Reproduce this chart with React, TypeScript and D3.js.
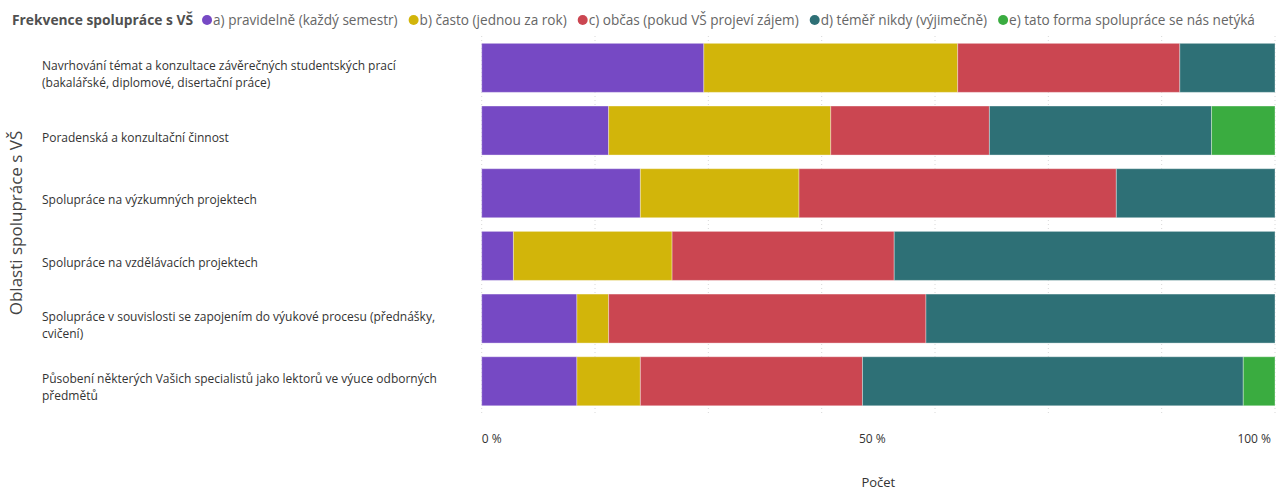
import React, { useEffect, useRef } from "react";
import * as d3 from "d3";

const categories = [
  "Navrhování témat a konzultace závěrečných studentských prací\n(bakalářské, diplomové, disertační práce)",
  "Poradenská a konzultační činnost",
  "Spolupráce na výzkumných projektech",
  "Spolupráce na vzdělávacích projektech",
  "Spolupráce v souvislosti se zapojením do výukové procesu (přednášky,\ncvičení)",
  "Působení některých Vašich specialistů jako lektorů ve výuce odborných\npředmětů",
];

const seriesNames = [
  "a) pravidelně (každý semestr)",
  "b) často (jednou za rok)",
  "c) občas (pokud VŠ projeví zájem)",
  "d) téměř nikdy (výjimečně)",
  "e) tato forma spolupráce se nás netýká",
];

const seriesColors = ["#7649C4", "#D2B50A", "#CB4651", "#2E7076", "#3AAC40"];

// counts per category (same order as categories)
const valuesA = [7, 4, 5, 1, 3, 3];
const valuesB = [8, 7, 5, 5, 1, 2];
const valuesC = [7, 5, 10, 7, 10, 7];
const valuesD = [3, 7, 5, 12, 11, 12];
const valuesE = [0, 2, 0, 0, 0, 1];

const xTickValues = [0, 0.5, 1];
const xTickLabels = ["0 %", "50 %", "100 %"];
const gridCount = 7;

const legendTitle = "Frekvence spolupráce s VŠ";
const yTitle = "Oblasti spolupráce s VŠ";
const xTitle = "Počet";

const W = 1287;
const H = 491;
const FONT = "'Open Sans', 'Noto Sans', sans-serif";

export default function App() {
  const ref = useRef<SVGSVGElement | null>(null);

  useEffect(() => {
    const svg = d3.select(ref.current);
    svg.selectAll("*").remove();

    const rows = categories.map((c, i) => ({
      cat: c,
      s0: valuesA[i],
      s1: valuesB[i],
      s2: valuesC[i],
      s3: valuesD[i],
      s4: valuesE[i],
    }));
    const keys = ["s0", "s1", "s2", "s3", "s4"];
    const stacked = d3.stack<any>().keys(keys).offset(d3.stackOffsetExpand)(rows);

    const x = d3.scaleLinear().domain([0, 1]).range([481.7, 1275]);
    const y = d3
      .scaleBand<string>()
      .domain(categories)
      .range([36.5, 412.6])
      .paddingInner(0.218)
      .paddingOuter(0.109);

    // gridlines
    const grid = d3.range(gridCount + 1).map((i) => i / gridCount);
    svg
      .append("g")
      .selectAll("line")
      .data(grid)
      .join("line")
      .attr("x1", (d) => x(d))
      .attr("x2", (d) => x(d))
      .attr("y1", 36)
      .attr("y2", 413)
      .attr("stroke", "#d8d8d8")
      .attr("stroke-width", 1)
      .attr("stroke-dasharray", "1 3");

    // bars
    svg
      .append("g")
      .selectAll("g")
      .data(stacked)
      .join("g")
      .attr("fill", (_d, i) => seriesColors[i])
      .selectAll("rect")
      .data((d) => d.filter((p) => p[1] - p[0] > 0))
      .join("rect")
      .attr("x", (d) => x(d[0]))
      .attr("width", (d) => x(d[1]) - x(d[0]))
      .attr("y", (d) => y((d.data as any).cat)!)
      .attr("height", y.bandwidth())
      .attr("stroke", "#ffffff")
      .attr("stroke-opacity", 0.35)
      .attr("stroke-width", 1);

    // category labels
    const lab = svg.append("g").attr("font-family", FONT).attr("font-size", 12).attr("fill", "#333");
    categories.forEach((c) => {
      const lines = c.split("\n");
      const cy = y(c)! + y.bandwidth() / 2;
      const first = cy + 7 - (lines.length - 1) * 9;
      lines.forEach((ln, j) => {
        lab
          .append("text")
          .attr("x", 42)
          .attr("y", first + j * 17)
          .attr("dy", "0.35em")
          .text(ln);
      });
    });

    // y title
    svg
      .append("text")
      .attr("transform", `translate(16,223) rotate(-90)`)
      .attr("text-anchor", "middle")
      .attr("dy", "0.35em")
      .attr("font-family", FONT)
      .attr("font-size", 17)
      .attr("fill", "#444")
      .text(yTitle);

    // x ticks
    svg
      .append("g")
      .selectAll("text")
      .data(xTickValues)
      .join("text")
      .attr("x", (d, i) => (i === 0 ? x(d) : i === xTickValues.length - 1 ? x(d) - 4 : x(d) - 6))
      .attr("y", 439)
      .attr("dy", "0.35em")
      .attr("text-anchor", (_d, i) => (i === 0 ? "start" : i === xTickValues.length - 1 ? "end" : "middle"))
      .attr("font-family", FONT)
      .attr("font-size", 12)
      .attr("fill", "#333")
      .text((_d, i) => xTickLabels[i]);

    // x title
    svg
      .append("text")
      .attr("x", (x(0) + x(1)) / 2)
      .attr("y", 482)
      .attr("dy", "0.35em")
      .attr("text-anchor", "middle")
      .attr("font-family", FONT)
      .attr("font-size", 13)
      .attr("fill", "#333")
      .text(xTitle);

    // legend
    const leg = svg.append("g").attr("font-family", FONT);
    const t = leg
      .append("text")
      .attr("x", 12)
      .attr("y", 20)
      .attr("dy", "0.35em")
      .attr("font-size", 13.8)
      .attr("font-weight", "bold")
      .attr("fill", "#505050")
      .text(legendTitle);
    let cx = 12 + (t.node() as SVGTextElement).getComputedTextLength() + 14;
    seriesNames.forEach((n, i) => {
      leg
        .append("circle")
        .attr("cx", cx)
        .attr("cy", 20)
        .attr("r", 5)
        .attr("fill", seriesColors[i]);
      const tt = leg
        .append("text")
        .attr("x", cx + 6)
        .attr("y", 20)
        .attr("dy", "0.35em")
        .attr("font-size", 13.6)
        .attr("fill", "#666")
        .text(n);
      cx = cx + 6 + (tt.node() as SVGTextElement).getComputedTextLength() + 16;
    });
  }, []);

  return (
    <svg
      ref={ref}
      width={W}
      height={H}
      style={{ position: "absolute", left: 0, top: 0, background: "#fff" }}
    />
  );
}
